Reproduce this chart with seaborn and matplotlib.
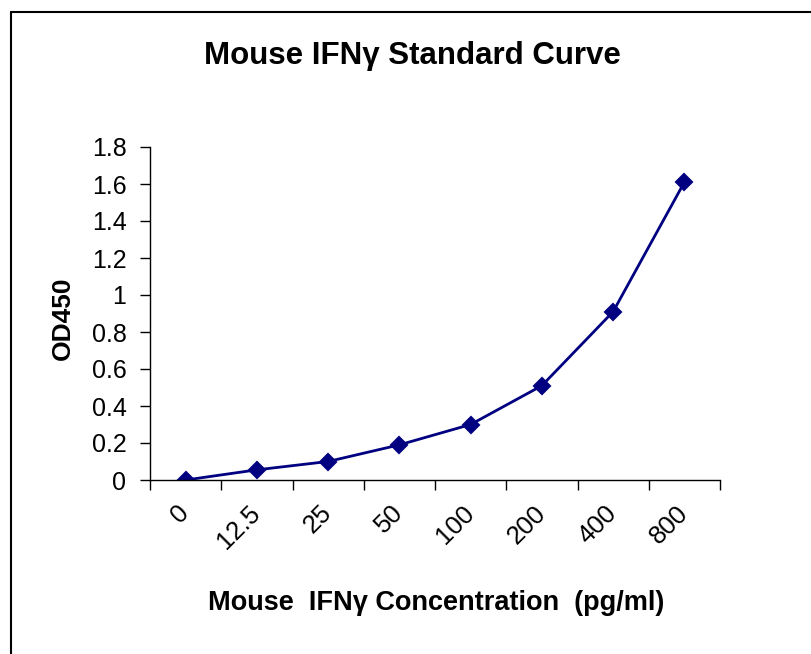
import numpy as np
import matplotlib
matplotlib.use("Agg")
import matplotlib.pyplot as plt
import matplotlib.ticker as mticker
from matplotlib.lines import Line2D
import seaborn as sns

# Standard curve data
concentration = ["0", "12.5", "25", "50", "100", "200", "400", "800"]
od450 = [0.0, 0.055, 0.10, 0.19, 0.30, 0.51, 0.91, 1.61]

sns.set_theme(style="ticks")
plt.rcParams["font.family"] = ["Liberation Sans", "DejaVu Sans"]
plt.rcParams["text.color"] = "black"
plt.rcParams["axes.labelcolor"] = "black"
plt.rcParams["xtick.color"] = "black"
plt.rcParams["ytick.color"] = "black"

fig = plt.figure(figsize=(8.11, 6.54), dpi=100)
W, H = 811, 654
ax = fig.add_axes([150 / W, 1 - 480 / H, 570 / W, 333 / H])

sns.pointplot(x=concentration, y=od450, order=concentration, ax=ax,
              color="#000080", markers="D", markersize=8.5, linewidth=2,
              errorbar=None)

ax.set_xlim(-0.5, len(concentration) - 0.5)
ax.set_ylim(0, 1.8)
ax.yaxis.set_major_locator(mticker.MultipleLocator(0.2))
ax.yaxis.set_major_formatter(mticker.FuncFormatter(lambda v, p: f"{v:g}"))

# category boundaries get the tick marks, labels sit on the centres
ax.set_xticks(np.arange(-0.5, len(concentration)), minor=False)
ax.set_xticklabels([])
ax.set_xticks(np.arange(len(concentration)), minor=True)
ax.set_xticklabels(concentration, minor=True, rotation=45, ha="right",
                   va="center", rotation_mode="anchor", fontsize=18.5)
ax.tick_params(axis="x", which="major", length=7, width=1, direction="out", color="black")
ax.tick_params(axis="x", which="minor", length=0, pad=21)
ax.tick_params(axis="y", length=7, width=1, direction="out", color="black",
               labelsize=18, pad=10)

sns.despine(ax=ax)
for s in ["left", "bottom"]:
    ax.spines[s].set_color("black")
    ax.spines[s].set_linewidth(1)

ax.set_xlabel("")
ax.set_ylabel("")
fig.text(436 / W, 1 - 603 / H, "Mouse  IFNγ Concentration  (pg/ml)",
         ha="center", va="center", fontsize=19.5, fontweight="bold")
fig.text(63 / W, 1 - 318 / H, "OD450", ha="center", va="center",
         rotation=90, fontsize=19, fontweight="bold")
fig.text(412 / W, 1 - 56 / H, "Mouse IFNγ Standard Curve", ha="center",
         va="center", fontsize=22.5, fontweight="bold")

# outer frame (left and top edges visible)
fig.add_artist(Line2D([11 / W, 11 / W], [0, 1 - 12 / H], transform=fig.transFigure,
                      color="black", linewidth=1.5))
fig.add_artist(Line2D([11 / W, 1], [1 - 12 / H, 1 - 12 / H], transform=fig.transFigure,
                      color="black", linewidth=1.5))

fig.savefig("out.png", dpi=100, facecolor="white")
